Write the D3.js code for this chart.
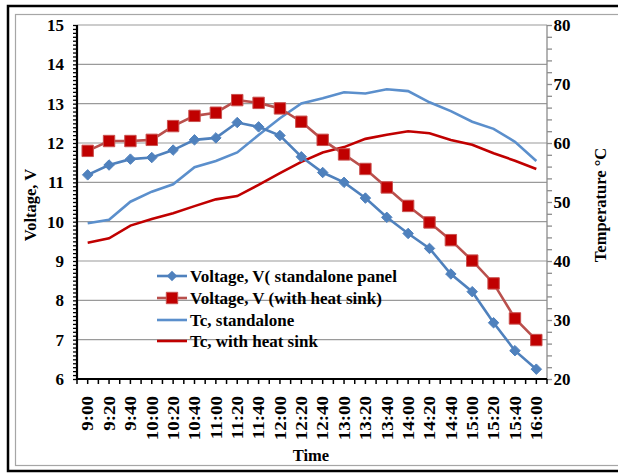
<!DOCTYPE html>
<html>
<head>
<meta charset="utf-8">
<script src="https://cdn.jsdelivr.net/npm/d3@7"></script>
<style>
  body { margin: 0; background: #fff; }
  text { font-family: "Liberation Serif", "Times New Roman", serif; font-weight: bold; fill: #000; }
</style>
</head>
<body>
<div id="chart"></div>
<script>
// categories (time of day)
var times = ["9:00", "9:20", "9:40", "10:00", "10:20", "10:40", "11:00", "11:20", "11:40", "12:00", "12:20",
  "12:40", "13:00", "13:20", "13:40", "14:00", "14:20", "14:40", "15:00", "15:20", "15:40", "16:00"];

// series
var voltStandalone = [11.19, 11.44, 11.59, 11.63, 11.82, 12.08, 12.13, 12.52, 12.41, 12.19, 11.65,
  11.25, 11.0, 10.6, 10.11, 9.7, 9.32, 8.67, 8.22, 7.43, 6.72, 6.25];
var voltHeatSink = [11.8, 12.05, 12.05, 12.08, 12.43, 12.69, 12.77, 13.09, 13.02, 12.88, 12.54,
  12.08, 11.71, 11.34, 10.87, 10.4, 9.98, 9.53, 9.01, 8.43, 7.54, 6.99];
var tcStandalone = [46.4, 47.0, 50.05, 51.75, 53.0, 55.9, 56.95, 58.4, 61.35, 64.2, 66.7,
  67.6, 68.6, 68.4, 69.1, 68.8, 66.9, 65.4, 63.6, 62.4, 60.2, 56.95];
var tcHeatSink = [43.1, 43.85, 46.0, 47.1, 48.1, 49.3, 50.45, 51.0, 52.9, 54.9, 56.8,
  58.4, 59.3, 60.7, 61.4, 62.0, 61.65, 60.5, 59.7, 58.25, 57.0, 55.6];

// tick labels
var voltTicks = [6, 7, 8, 9, 10, 11, 12, 13, 14, 15];
var tempTicks = [20, 30, 40, 50, 60, 70, 80];

var legendNames = ["Voltage, V( standalone panel", "Voltage, V (with heat sink)", "Tc, standalone", "Tc, with heat sink"];

var W = 618, H = 474;
var margin = { top: 25, right: 71, bottom: 95, left: 77 };
var width = W - margin.left - margin.right;
var height = H - margin.top - margin.bottom;

var svg = d3.select("#chart").append("svg").attr("width", W).attr("height", H);

// frame
svg.append("rect").attr("x", 8).attr("y", 6).attr("width", 630).attr("height", 465)
  .attr("fill", "none").attr("stroke", "#000").attr("stroke-width", 2.5);
svg.append("rect").attr("x", 15.5).attr("y", 14.5).attr("width", 630).attr("height", 451)
  .attr("fill", "none").attr("stroke", "#a6a6a6").attr("stroke-width", 1.2);

var g = svg.append("g").attr("transform", "translate(" + margin.left + "," + margin.top + ")");

var x = d3.scaleBand().domain(times).range([0, width]);
var yV = d3.scaleLinear().domain([6, 15]).range([height, 0]);
var yT = d3.scaleLinear().domain([20, 80]).range([height, 0]);
var cx = function (i) { return x(times[i]) + x.bandwidth() / 2; };

// gridlines
g.append("g").selectAll("line").data(voltTicks.slice(1)).enter().append("line")
  .attr("x1", 0).attr("x2", width)
  .attr("y1", function (d) { return yV(d); }).attr("y2", function (d) { return yV(d); })
  .attr("stroke", "#9a9a9a").attr("stroke-width", 1.2);

// right axis (grey)
var minorT = d3.range(20, 80.1, 2);
var rAxis = g.append("g").attr("transform", "translate(" + width + ",0)");
rAxis.call(d3.axisRight(yT).tickValues(minorT).tickSize(5).tickFormat(""));
rAxis.selectAll("line,path").attr("stroke", "#8c8c8c").attr("stroke-width", 1.3);
rAxis.select(".domain").attr("d", "M0,0V" + height);
rAxis.selectAll("text").remove();
rAxis.selectAll(".lbl").data(tempTicks).enter().append("text")
  .attr("x", 6.5).attr("y", function (d) { return yT(d); }).attr("dy", "0.36em")
  .style("font-size", "17px").text(function (d) { return d; });

// left axis
var minorV = d3.range(60, 151).map(function (d) { return d / 10; });
var lAxis = g.append("g");
lAxis.call(d3.axisLeft(yV).tickValues(minorV).tickSize(4).tickFormat(""));
lAxis.selectAll("line").attr("stroke", "#000").attr("stroke-width", 1.3);
lAxis.select(".domain").attr("d", "M0,0V" + height).attr("stroke", "#000").attr("stroke-width", 2.2);
lAxis.selectAll(".lbl").data(voltTicks).enter().append("text")
  .attr("x", -13).attr("y", function (d) { return yV(d); }).attr("dy", "0.36em")
  .attr("text-anchor", "end").style("font-size", "17px").text(function (d) { return d; });

// bottom axis with ticks at every half category
var bAxis = g.append("g").attr("transform", "translate(0," + height + ")");
var halfTicks = d3.range(0, times.length * 2 + 1).map(function (k) { return k * x.bandwidth() / 2; });
bAxis.selectAll("line").data(halfTicks).enter().append("line")
  .attr("x1", function (d) { return d; }).attr("x2", function (d) { return d; })
  .attr("y1", 0).attr("y2", 5).attr("stroke", "#000").attr("stroke-width", 1.5);
bAxis.append("line").attr("x1", -1).attr("x2", width).attr("y1", 0).attr("y2", 0)
  .attr("stroke", "#000").attr("stroke-width", 2.2);
bAxis.selectAll(".lbl").data(times).enter().append("text")
  .attr("transform", function (d, i) { return "translate(" + cx(i) + ",17) rotate(-90) scale(1.15,1)"; })
  .attr("text-anchor", "end").attr("dy", "0.35em").style("font-size", "16.5px")
  .text(function (d) { return d; });

// axis titles
g.append("text").attr("transform", "translate(" + (30 - margin.left) + "," + (height / 2 + 3) + ") rotate(-90)")
  .attr("text-anchor", "middle").attr("dy", "0.35em").style("font-size", "16.5px").text("Voltage, V");
g.append("text").attr("transform", "translate(" + (width + 525 - 0 - 0 + 0 - 525 + 53) + "," + (height / 2 + 3) + ") rotate(-90)")
  .attr("text-anchor", "middle").attr("dy", "0.35em").style("font-size", "16.5px").text("Temperature °C");
g.append("text").attr("x", 311 - margin.left).attr("y", 461 - margin.top)
  .attr("text-anchor", "middle").style("font-size", "16.5px").text("Time");

// lines
var lineV = d3.line().x(function (d, i) { return cx(i); }).y(function (d) { return yV(d); });
var lineT = d3.line().x(function (d, i) { return cx(i); }).y(function (d) { return yT(d); });

var colBlue = "#4f81bd", colBrown = "#b9504d", colRed = "#c00000", colLight = "#5b8fcc";

g.append("path").datum(tcStandalone).attr("d", lineT).attr("fill", "none")
  .attr("stroke", colLight).attr("stroke-width", 2.6);
g.append("path").datum(tcHeatSink).attr("d", lineT).attr("fill", "none")
  .attr("stroke", colRed).attr("stroke-width", 2.6);
g.append("path").datum(voltHeatSink).attr("d", lineV).attr("fill", "none")
  .attr("stroke", colBrown).attr("stroke-width", 2.6);
g.append("path").datum(voltStandalone).attr("d", lineV).attr("fill", "none")
  .attr("stroke", colBlue).attr("stroke-width", 2.6);

var diamond = d3.symbol().type(d3.symbolDiamond2).size(70);
var square = d3.symbol().type(d3.symbolSquare).size(130);

g.selectAll(".sq").data(voltHeatSink).enter().append("path")
  .attr("d", square).attr("transform", function (d, i) { return "translate(" + cx(i) + "," + yV(d) + ")"; })
  .attr("fill", colRed).attr("stroke", "#c9504e").attr("stroke-width", 1);
g.selectAll(".dm").data(voltStandalone).enter().append("path")
  .attr("d", diamond).attr("transform", function (d, i) { return "translate(" + cx(i) + "," + yV(d) + ")"; })
  .attr("fill", colBlue).attr("stroke", colBlue).attr("stroke-width", 1);

// legend
var legColors = [colBlue, colBrown, colLight, colRed];
var legMarks = ["diamond", "square", null, null];
var legY = [276, 298, 320, 341];
var leg = svg.append("g");
legendNames.forEach(function (name, i) {
  var row = leg.append("g").attr("transform", "translate(0," + legY[i] + ")");
  row.append("line").attr("x1", 157).attr("x2", 187).attr("y1", 0).attr("y2", 0)
    .attr("stroke", legColors[i]).attr("stroke-width", 2.6);
  if (legMarks[i] == "diamond") {
    row.append("path").attr("d", diamond).attr("transform", "translate(172,0)").attr("fill", colBlue);
  } else if (legMarks[i] == "square") {
    row.append("path").attr("d", square).attr("transform", "translate(172,0)")
      .attr("fill", colRed).attr("stroke", "#c9504e");
  }
  row.append("text").attr("x", 190).attr("dy", "0.36em").style("font-size", "17px").text(name);
});
</script>
</body>
</html>
